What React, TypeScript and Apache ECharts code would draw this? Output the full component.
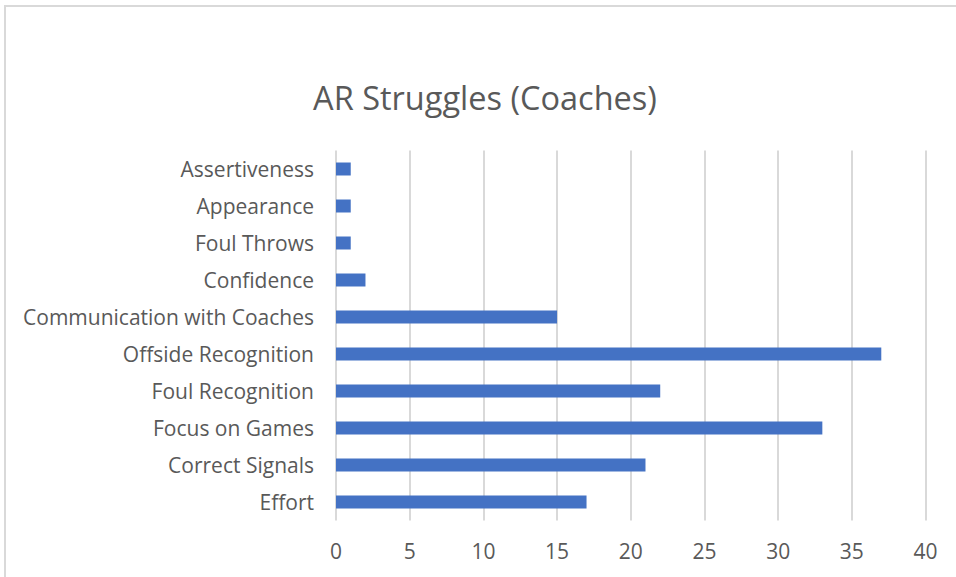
import React, { useEffect, useRef } from "react";
import * as echarts from "echarts";

const categories = [
  "Effort",
  "Correct Signals",
  "Focus on Games",
  "Foul Recognition",
  "Offside Recognition",
  "Communication with Coaches",
  "Confidence",
  "Foul Throws",
  "Appearance",
  "Assertiveness",
];
const values = [17, 21, 33, 22, 37, 15, 2, 1, 1, 1];
const title = "AR Struggles (Coaches)";

export default function App() {
  const ref = useRef<HTMLDivElement>(null);
  useEffect(() => {
    if (!ref.current) return;
    const chart = echarts.init(ref.current, null, { renderer: "svg" });
    chart.setOption({
      animation: false,
      backgroundColor: "#ffffff",
      title: {
        text: title,
        left: 480,
        textAlign: "center",
        top: 76,
        textStyle: {
          fontFamily: "Open Sans",
          fontSize: 32.5,
          fontWeight: "normal",
          color: "#595959",
        },
      },
      graphic: [
        {
          type: "rect",
          shape: { x: 5, y: 6, width: 1200, height: 1200 },
          style: { fill: "none", stroke: "#d9d9d9", lineWidth: 2 },
          silent: true,
        },
      ],
      grid: { left: 336, right: 30.5, top: 150.5, bottom: 56.5, containLabel: false },
      xAxis: {
        type: "value",
        min: 0,
        max: 40,
        interval: 5,
        axisLine: { show: false },
        axisTick: { show: false },
        axisLabel: {
          fontFamily: "Open Sans",
          fontSize: 21,
          color: "#595959",
          margin: 20,
        },
        splitLine: { show: true, lineStyle: { color: "#d9d9d9", width: 2 } },
      },
      yAxis: {
        type: "category",
        data: categories,
        axisLine: { show: false },
        axisTick: { show: false },
        axisLabel: {
          fontFamily: "Open Sans",
          fontSize: 21,
          color: "#595959",
          margin: 22,
        },
        splitLine: { show: false },
      },
      series: [
        {
          type: "bar",
          data: values,
          barWidth: 13,
          itemStyle: { color: "#4472C4" },
        },
      ],
    });
    return () => chart.dispose();
  }, []);
  return (
    <div
      ref={ref}
      style={{ position: "fixed", left: 0, top: 0, width: 956, height: 577 }}
    />
  );
}
